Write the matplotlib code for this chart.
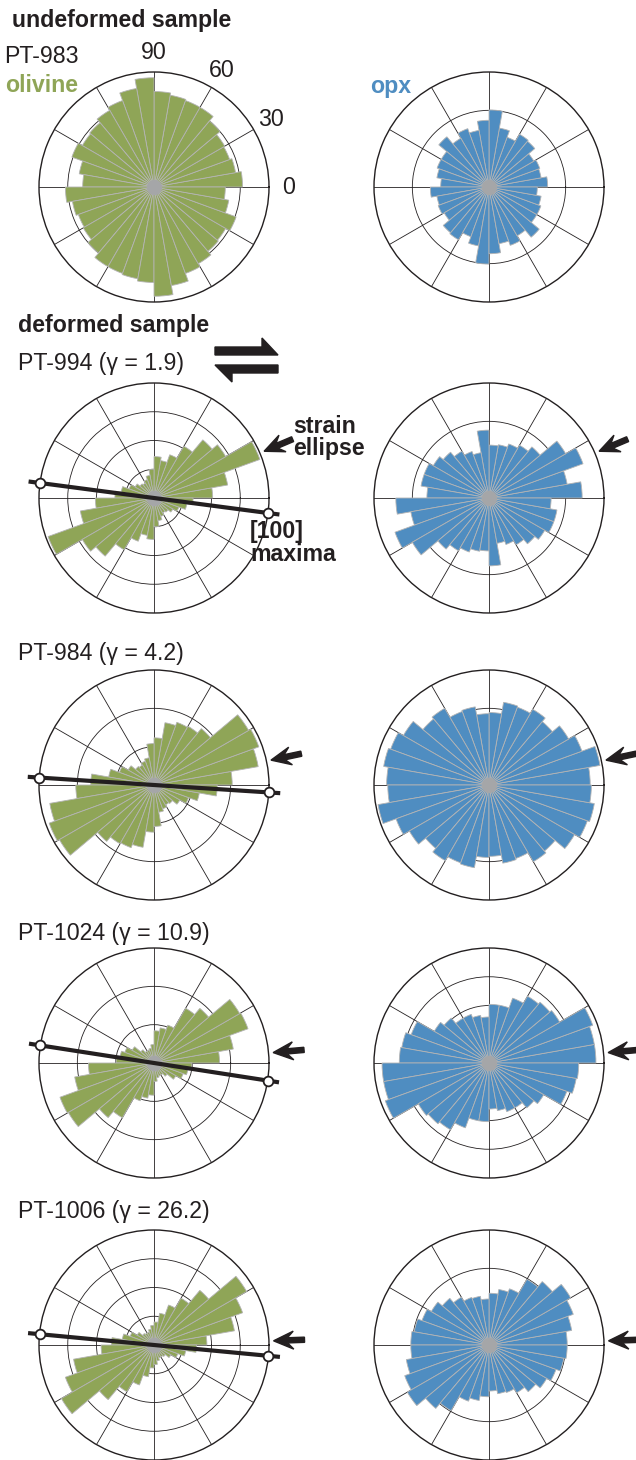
import matplotlib
matplotlib.use('Agg')
import matplotlib.pyplot as plt
import numpy as np
from matplotlib.patches import Polygon

plt.rcParams['font.family'] = ['Liberation Sans', 'DejaVu Sans']

# ---- data: bar lengths for 10-degree bins 0-10 ... 170-180 (axial, mirrored), fraction of outer circle
samples = ['PT-983', 'PT-994', 'PT-984', 'PT-1024', 'PT-1006']
gammas = [None, '1.9', '4.2', '10.9', '26.2']

olivine_983 = [0.77, 0.72, 0.70, 0.71, 0.75, 0.80, 0.80, 0.81, 0.83, 0.95, 0.87, 0.80, 0.77, 0.73, 0.72, 0.76, 0.66, 0.62]
olivine_994 = [0.51, 0.65, 0.98, 0.72, 0.66, 0.52, 0.40, 0.33, 0.36, 0.25, 0.20, 0.17, 0.15, 0.16, 0.19, 0.23, 0.29, 0.34]
olivine_984 = [0.68, 0.92, 0.97, 0.95, 0.64, 0.59, 0.58, 0.55, 0.41, 0.36, 0.24, 0.22, 0.20, 0.21, 0.26, 0.32, 0.40, 0.55]
olivine_1024 = [0.57, 0.70, 0.87, 0.86, 0.62, 0.55, 0.35, 0.31, 0.28, 0.16, 0.13, 0.12, 0.12, 0.15, 0.22, 0.27, 0.30, 0.33]
olivine_1006 = [0.46, 0.71, 0.82, 0.93, 0.62, 0.47, 0.37, 0.28, 0.20, 0.17, 0.14, 0.12, 0.12, 0.13, 0.17, 0.22, 0.28, 0.37]

opx_983 = [0.51, 0.46, 0.47, 0.45, 0.52, 0.53, 0.46, 0.52, 0.67, 0.58, 0.50, 0.54, 0.49, 0.57, 0.48, 0.48, 0.46, 0.42]
opx_994 = [0.81, 0.69, 0.87, 0.77, 0.58, 0.53, 0.50, 0.47, 0.46, 0.59, 0.40, 0.43, 0.47, 0.52, 0.56, 0.60, 0.60, 0.54]
opx_984 = [0.88, 0.98, 0.86, 0.80, 0.72, 0.76, 0.72, 0.73, 0.63, 0.62, 0.69, 0.68, 0.77, 0.75, 0.86, 0.91, 0.93, 0.89]
opx_1024 = [0.93, 0.93, 0.96, 0.71, 0.69, 0.67, 0.60, 0.51, 0.51, 0.40, 0.42, 0.45, 0.45, 0.51, 0.55, 0.72, 0.77, 0.78]
opx_1006 = [0.68, 0.73, 0.78, 0.82, 0.72, 0.66, 0.52, 0.49, 0.45, 0.40, 0.43, 0.44, 0.48, 0.53, 0.58, 0.62, 0.66, 0.68]

olivine = [olivine_983, olivine_994, olivine_984, olivine_1024, olivine_1006]
opx = [opx_983, opx_994, opx_984, opx_1024, opx_1006]
olivine_rings = [4, 4, 3, 3, 4]
opx_rings = [3, 3, 3, 4, 3]
maxima_deg = [None, -7.5, -3.7, -8.8, -5.4]      # [100] maxima direction
ellipse_deg = [None, 23, 12, 5, 2]               # strain ellipse long axis
angle_labels = [0, 30, 60, 90]

GREEN = '#8fa557'
BLUE = '#4f8dc1'
INK = '#231f20'
GRAY = '#a5a6a8'
FS = 16.7

W, H = 636, 1460
fig = plt.figure(figsize=(W / 100, H / 100), dpi=100)


def fx(x):
    return x / W


def fy(y):
    return 1 - y / H


row_y = [187, 498, 785, 1063, 1345]
col_x = [154, 489]
R = 115


def rose(cx, cy, vals, color, nrings):
    ax = fig.add_axes([fx(cx - R), fy(cy + R), 2 * R / W, 2 * R / H], projection='polar')
    ax.set_ylim(0, 1)
    ax.set_axisbelow(True)
    ax.set_thetagrids(np.arange(0, 360, 30), labels=[])
    ax.set_rgrids(np.arange(1, nrings) / nrings, labels=[])
    ax.grid(True, color=INK, lw=0.6)
    ax.spines['polar'].set_linewidth(1.0)
    ax.spines['polar'].set_color(INK)
    ax.tick_params(length=0)
    theta = np.radians(np.arange(0, 360, 10) + 5)
    r = np.concatenate([vals, vals])
    ax.bar(theta, r, width=np.radians(10), bottom=0, color=color,
           edgecolor='#b4b4b4', linewidth=0.6, zorder=2)
    ax.plot(0, 0, 'o', ms=10, color=GRAY, zorder=3)
    return ax


def strain_arrow(ax, phi):
    t = np.radians(phi)
    tip = ax.transData.transform((t, 1.04))
    f = -np.array([np.cos(t), np.sin(t)])
    n = np.array([-f[1], f[0]])
    local = [(0, 0), (-20, 9), (-14, 2.6), (-31, 2.6), (-31, -2.6), (-14, -2.6), (-20, -9)]
    pts = [tip + u * f + v * n for u, v in local]
    pts = [(p[0] / W, p[1] / H) for p in pts]
    fig.patches.append(Polygon(pts, closed=True, color=INK, transform=fig.transFigure))


def maxima_line(ax, phi):
    t = np.radians(phi)
    ax.plot([t + np.pi, t + np.pi, t, t], [1.1, 0, 0, 1.1], color=INK, lw=3,
            clip_on=False, zorder=4, solid_capstyle='butt')
    ax.plot([t, t + np.pi], [1, 1], 'o', ms=7, mfc='white', mec=INK, mew=1.3,
            ls='none', clip_on=False, zorder=5)


for i in range(5):
    cy = row_y[i]
    ax_ol = rose(col_x[0], cy, olivine[i], GREEN, olivine_rings[i])
    ax_px = rose(col_x[1], cy, opx[i], BLUE, opx_rings[i])
    if maxima_deg[i] is not None:
        maxima_line(ax_ol, maxima_deg[i])
        strain_arrow(ax_ol, ellipse_deg[i])
        strain_arrow(ax_px, ellipse_deg[i])
    if i == 0:
        for a in angle_labels:
            ax_ol.text(np.radians(a), 1.17, str(a), fontsize=FS, color=INK,
                       ha='center', va='center', clip_on=False)

# ---- text
fig.text(fx(12), fy(27), 'undeformed sample', fontsize=FS, fontweight='bold', color=INK, va='baseline')
fig.text(fx(4), fy(63), samples[0], fontsize=FS, color=INK, va='baseline')
fig.text(fx(5), fy(92), 'olivine', fontsize=FS, fontweight='bold', color=GREEN, va='baseline')
fig.text(fx(370), fy(93), 'opx', fontsize=FS, fontweight='bold', color=BLUE, va='baseline')
fig.text(fx(18), fy(332), 'deformed sample', fontsize=FS, fontweight='bold', color=INK, va='baseline')

title_y = [None, 370, 660, 940, 1218]
for i in range(1, 5):
    fig.text(fx(18), fy(title_y[i]), f'{samples[i]} (\u03b3 = {gammas[i]})', fontsize=FS,
             color=INK, va='baseline')

fig.text(fx(293), fy(433), 'strain', fontsize=FS, fontweight='bold', color=INK, va='baseline')
fig.text(fx(293), fy(455), 'ellipse', fontsize=FS, fontweight='bold', color=INK, va='baseline')
fig.text(fx(250), fy(538), '[100]', fontsize=FS, fontweight='bold', color=INK, va='baseline')
fig.text(fx(250), fy(561), 'maxima', fontsize=FS, fontweight='bold', color=INK, va='baseline')

# ---- shear sense half-arrows
top = [(215, 347), (262, 347), (262, 338), (278, 355), (215, 355)]
bot = [(278, 365), (278, 373), (232, 373), (232, 382), (215, 365)]
for poly in (top, bot):
    fig.patches.append(Polygon([(fx(x), fy(y)) for x, y in poly], closed=True,
                               color=INK, transform=fig.transFigure))

fig.savefig('out.png', dpi=100)
